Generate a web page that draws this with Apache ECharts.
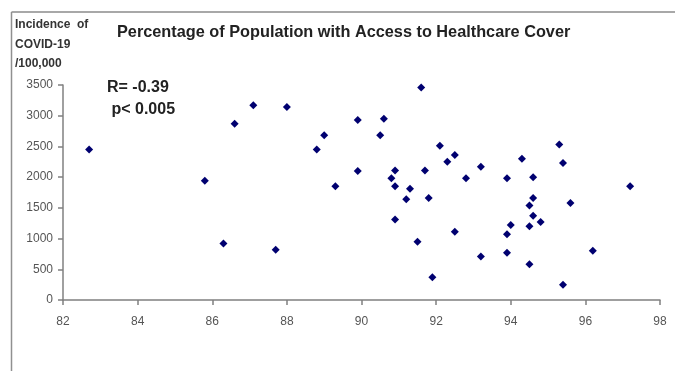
<!DOCTYPE html>
<html>
<head>
<meta charset="utf-8">
<script src="https://cdn.jsdelivr.net/npm/echarts@6/dist/echarts.min.js"></script>
<style>html,body{margin:0;padding:0;background:#fff}#c{width:675px;height:371px}</style>
</head>
<body>
<div id="c"></div>
<script>
var xValues = [82.7,85.8,86.3,86.6,87.1,87.7,88.0,88.8,89.0,89.3,89.9,89.9,90.5,90.6,90.8,90.9,90.9,90.9,91.2,91.3,91.5,91.6,91.7,91.8,91.9,92.1,92.3,92.5,92.5,92.8,93.2,93.2,93.9,93.9,93.9,94.0,94.3,94.5,94.5,94.5,94.6,94.6,94.6,94.8,95.3,95.4,95.4,95.6,96.2,97.2];
var yValues = [2450,1940,920,2870,3170,820,3140,2450,2680,1850,2930,2100,2680,2950,1980,2110,1850,1310,1640,1810,950,3460,2110,1660,370,2510,2250,2360,1110,1980,2170,710,1980,1070,770,1220,2300,1540,1200,580,2000,1660,1370,1270,2530,2230,250,1580,800,1850];
var xTicks = [82,84,86,88,90,92,94,96,98];
var yTicks = [0,500,1000,1500,2000,2500,3000,3500];
var titleText = 'Percentage of Population with Access to Healthcare Cover';
var yTitleLines = ['Incidence  of','COVID-19','/100,000'];
var statLines = ['R= -0.39',' p< 0.005'];

var points = xValues.map(function(x,i){return [x,yValues[i]];});
var font = "'Liberation Sans',Arial,sans-serif";
var chart = echarts.init(document.getElementById('c'), null, {renderer:'canvas'});
chart.setOption({
  animation:false,
  backgroundColor:'#fff',
  grid:{left:63,right:15,top:85,bottom:71,containLabel:false},
  xAxis:{type:'value',min:xTicks[0],max:xTicks[xTicks.length-1],interval:2,
    axisLine:{show:true,onZero:false,lineStyle:{color:'#808080',width:1.5}},
    axisTick:{show:true,length:5,lineStyle:{color:'#808080',width:1.5}},
    axisLabel:{color:'#555',fontSize:12,fontFamily:font,margin:16,formatter:function(v){return String(v);}},
    splitLine:{show:false}},
  yAxis:{type:'value',min:yTicks[0],max:yTicks[yTicks.length-1],interval:500,
    axisLine:{show:true,onZero:false,lineStyle:{color:'#808080',width:1.5}},
    axisTick:{show:true,length:5,lineStyle:{color:'#808080',width:1.5}},
    axisLabel:{color:'#555',fontSize:12,fontFamily:font,margin:10,formatter:function(v){return String(v);}},
    splitLine:{show:false}},
  series:[{type:'scatter',data:points,symbol:'diamond',symbolSize:8,
    itemStyle:{color:'#000070',opacity:1}}],
  graphic:[
    {type:'line',shape:{x1:11.5,y1:12,x2:675,y2:12},style:{stroke:'#a8a8a8',lineWidth:2},silent:true},
    {type:'line',shape:{x1:11.5,y1:12,x2:11.5,y2:371},style:{stroke:'#909090',lineWidth:1.5},silent:true},
    {type:'text',left:15,top:15,style:{text:yTitleLines.join('\n'),font:"bold 12px "+font,fill:'#333',lineHeight:19.5}},
    {type:'text',left:117,top:25,style:{text:titleText,font:"bold 16.3px "+font,fill:'#222'}},
    {type:'text',left:107,top:77,style:{text:statLines.join('\n'),font:"bold 16px "+font,fill:'#222',lineHeight:22}}
  ]
});
</script>
</body>
</html>
